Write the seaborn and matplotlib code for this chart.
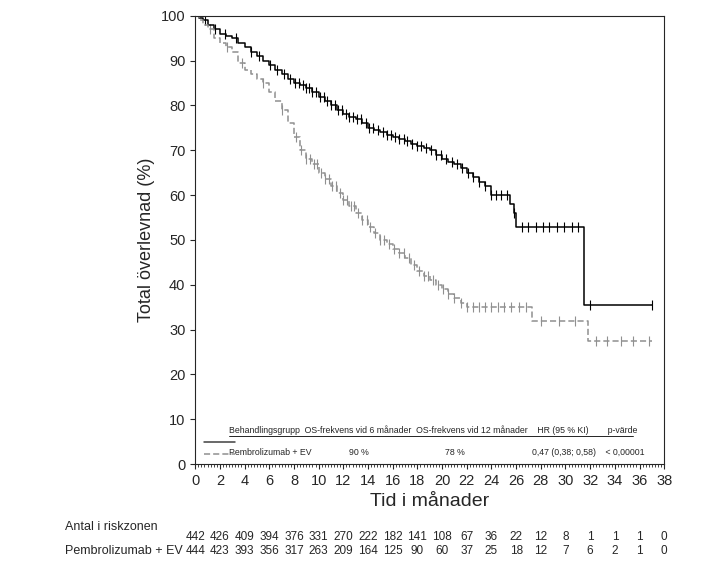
import numpy as np
import matplotlib.pyplot as plt
import seaborn as sns
from matplotlib.ticker import MultipleLocator

# Kaplan-Meier step points (months, %)
solid_t = [0, 0.3, 0.6, 1.0, 1.5, 2.0, 2.5, 3.0, 3.5, 4.0, 4.5, 5.0, 5.5, 6.0, 6.5, 7.0, 7.5, 8.0, 8.5, 9.0,
           9.5, 10.0, 10.5, 11.0, 11.5, 12.0, 12.5, 13.0, 13.5, 14.0, 14.5, 15.0, 15.5, 16.0, 16.5, 17.0,
           17.5, 18.0, 18.5, 19.0, 19.5, 20.0, 20.5, 21.0, 21.5, 22.0, 22.5, 23.0, 23.5, 24.0, 25.0, 25.5,
           25.8, 26.0, 31.5, 37.0]
solid_s = [100, 99.5, 99, 98, 97, 96, 95.5, 95, 94, 93, 92, 91, 90, 89, 88, 87, 86, 85, 84.5, 84,
           83, 82, 81, 80, 79, 78, 77.5, 77, 76, 75, 74.5, 74, 73.5, 73, 72.5, 72,
           71.5, 71, 70.5, 70, 69, 68, 67.5, 67, 66, 65, 64, 63, 62, 60, 60, 58,
           56, 53, 35.5, 35.5]
dash_t = [0, 0.3, 0.6, 1.0, 1.5, 2.0, 2.5, 3.0, 3.5, 4.0, 4.5, 5.0, 5.5, 6.0, 6.5, 7.0, 7.5, 8.0, 8.5, 9.0,
          9.5, 10.0, 10.5, 11.0, 11.5, 12.0, 12.5, 13.0, 13.5, 14.0, 14.5, 15.0, 15.5, 16.0, 16.5, 17.0,
          17.5, 18.0, 18.5, 19.0, 19.5, 20.0, 20.5, 21.0, 21.5, 22.0, 27.3, 31.8, 37.0]
dash_s = [100, 99, 98, 97, 95, 94, 93, 92, 89.5, 88, 87, 86, 85, 83, 81, 79, 76, 73, 70, 68,
          67, 65, 63.5, 62, 60.5, 59, 57.5, 56, 54.5, 53, 51.5, 50, 49, 48, 47, 46,
          44.5, 43, 42, 41, 40, 39, 38, 37, 36, 35, 32, 27.5, 27.5]

solid_cens = [0.8, 1.6, 2.4, 3.3, 4.5, 5.2, 6.1, 6.6, 7.2, 7.7, 8.1, 8.4, 8.7, 9.0, 9.2, 9.5, 9.8, 10.1, 10.4,
              10.7, 11.0, 11.3, 11.6, 11.9, 12.2, 12.5, 12.8, 13.1, 13.4, 13.8, 14.1, 14.4, 14.8, 15.2, 15.5,
              15.9, 16.2, 16.5, 16.9, 17.2, 17.6, 18.0, 18.3, 18.7, 19.1, 19.5, 19.9, 20.3, 20.8, 21.2, 21.6,
              22.1, 22.5, 23.0, 23.5, 24.0, 24.4, 24.8, 25.3, 25.8, 26.5, 27.0, 27.6, 28.2, 28.7, 29.3, 29.9,
              30.5, 31.0, 32.0, 37.0]
dash_cens = [1.2, 2.6, 3.8, 5.5, 7.0, 8.2, 8.6, 9.0, 9.3, 9.6, 9.9, 10.2, 10.5, 10.8, 11.1, 11.4, 11.7, 12.0,
             12.3, 12.6, 12.9, 13.2, 13.5, 13.9, 14.2, 14.6, 15.0, 15.3, 15.7, 16.1, 16.5, 16.9, 17.3, 17.7,
             18.1, 18.5, 18.9, 19.3, 19.7, 20.1, 20.5, 21.0, 21.5, 22.0, 22.5, 23.0, 23.5, 24.0, 24.5, 25.0,
             25.6, 26.2, 26.8, 28.0, 29.5, 30.8, 32.5, 33.4, 34.5, 35.5, 36.8]

risk_times = list(range(0, 40, 2))
risk_row1 = [442, 426, 409, 394, 376, 331, 270, 222, 182, 141, 108, 67, 36, 22, 12, 8, 1, 1, 1, 0]
risk_row2 = [444, 423, 393, 356, 317, 263, 209, 164, 125, 90, 60, 37, 25, 18, 12, 7, 6, 2, 1, 0]

sns.set_style("ticks")
plt.rcParams['font.family'] = ['Liberation Sans', 'DejaVu Sans']

fig = plt.figure(figsize=(7.15, 5.86), dpi=100)
ax = fig.add_axes([0.273, 0.208, 0.656, 0.765])


def step_at(ts, ss, x):
    i = np.searchsorted(ts, x, side='right') - 1
    return ss[max(i, 0)]


ax.step(solid_t, solid_s, where='post', color='black', lw=1.1)
ax.step(dash_t, dash_s, where='post', color='#909090', lw=1.1, linestyle=(0, (4, 2)))
ax.scatter(solid_cens, [step_at(solid_t, solid_s, c) for c in solid_cens], marker='|', s=60, color='black', lw=0.8)
ax.scatter(dash_cens, [step_at(dash_t, dash_s, c) for c in dash_cens], marker='|', s=60, color='#909090', lw=0.8)

ax.set_xlim(0, 38)
ax.set_ylim(0, 100)
ax.set_xticks(range(0, 39, 2))
ax.set_yticks(range(0, 101, 10))
ax.xaxis.set_minor_locator(MultipleLocator(0.25))
ax.tick_params(axis='both', labelsize=10.5)
ax.tick_params(axis='x', which='minor', length=2)
ax.set_xlabel('Tid i månader', fontsize=14)
ax.set_ylabel('Total överlevnad (%)', fontsize=13)

# legend table inside the axes
hdr_y = 6.5
ax.text(2.7, hdr_y, 'Behandlingsgrupp  OS-frekvens vid 6 månader  OS-frekvens vid 12 månader    HR (95 % KI)        p-värde',
        fontsize=6.3, va='bottom')
ax.plot([2.7, 35.5], [6.2, 6.2], color='black', lw=0.6)
ax.plot([0.7, 3.2], [5.0, 5.0], color='#404040', lw=1.1)
ax.plot([0.7, 3.2], [2.3, 2.3], color='#909090', lw=1.1, linestyle=(0, (4, 2)))
ax.text(2.7, 1.5, 'Pembrolizumab + EV', fontsize=6.3, va='bottom')
ax.text(12.5, 1.5, '90 %', fontsize=6.3, va='bottom')
ax.text(20.2, 1.5, '78 %', fontsize=6.3, va='bottom')
ax.text(27.3, 1.5, '0,47 (0,38; 0,58)    < 0,00001', fontsize=6.3, va='bottom')

# numbers at risk
fig.text(65 / 715, 1 - 527 / 586, 'Antal i riskzonen', fontsize=9, va='center')
fig.text(65 / 715, 1 - 551 / 586, 'Pembrolizumab + EV', fontsize=9, va='center')
for t, a, b in zip(risk_times, risk_row1, risk_row2):
    x = ax.transData.transform((t, 0))[0] / fig.bbox.width
    fig.text(x, 1 - 537 / 586, str(a), fontsize=8.5, ha='center', va='center')
    fig.text(x, 1 - 551 / 586, str(b), fontsize=8.5, ha='center', va='center')

fig.savefig('out.png', dpi=100)
